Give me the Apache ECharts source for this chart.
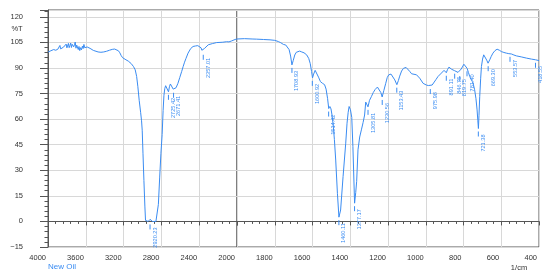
<!DOCTYPE html>
<html><head><meta charset="utf-8">
<script src="https://cdn.jsdelivr.net/npm/echarts@6/dist/echarts.min.js"></script>
<style>html,body{margin:0;padding:0;background:#fff}#c{width:550px;height:279px}</style>
</head><body><div id="c"></div>
<script>
// Spectrum: wavenumber (1/cm) and transmittance (%T)
const wavenumbers = [4000,3985,3970,3955,3940,3928,3918,3908,3896,3884,3874,3866,3856,3846,3836,3826,3816,3808,3800,3792,3784,3776,3768,3760,3752,3744,3736,3728,3720,3712,3704,3696,3688,3680,3672,3664,3656,3646,3636,3628,3620,3612,3600,3585,3570,3555,3540,3520,3500,3470,3440,3410,3380,3350,3320,3295,3275,3255,3240,3225,3210,3195,3175,3150,3120,3095,3077,3062,3049,3035,3020,3010,3003,2995,2985,2975,2968,2955,2940,2928,2920,2912,2895,2875,2858,2842,2832,2818,2805,2792,2782,2773,2764,2755,2746,2737,2725,2715,2705,2695,2685,2675,2670,2660,2645,2625,2605,2585,2570,2555,2540,2518,2490,2465,2440,2415,2394,2380,2372,2362,2355,2345,2330,2304,2260,2216,2180,2150,2110,2085,2060,2040,2020,2000,
1960,1920,1896,1860,1825,1800,1781,1768,1754,1742,1732,1724,1716,1709,1702,1694,1686,1678,1668,1657,1645,1631,1620,1612,1605,1600,1594,1586,1578,1568,1558,1547,1536,1528,1520,1514,1508,1502,1496,1490,1484,1477,1468,1460,1451,1438,1424,1417,1411,1406,1399,1392,1386,1377,1371,1366,1359,1350,1341,1332,1324,1318,1312,1306,1298,1288,1278,1268,1256,1246,1238,1231,1222,1212,1204,1196,1184,1174,1164,1153,1145,1138,1128,1118,1104,1094,1085,1075,1067,1049,1032,1014,997,986,976,966,958,946,935,917,903,891,885,877,870,864,847,838,829,820,812,806,798,794,788,781,774,767,760,753,747,741,734,728,724,721,718,714,709,705,699,693,688,684,677,670,665,661,653,644,633,622,610,599,586,573,560,553,546,533,520,494,467,440,418,400];
const transmittance = [99.3,99.7,100.1,100.5,100.8,101.2,100.4,101.4,101.0,101.8,103.2,101.2,102.0,101.6,102.2,101.4,102.6,104.0,101.8,102.8,104.4,101.9,103.2,104.6,102.0,103.9,105.0,102.4,103.6,105.2,101.6,103.4,104.2,100.8,102.6,100.2,101.9,100.6,102.8,101.4,103.8,101.9,102.9,102.3,101.9,101.5,100.9,100.3,99.8,99.4,99.2,99.4,99.8,100.4,100.9,101.1,100.9,100.1,98.9,97.2,96.0,95.4,94.8,94.0,92.6,90.8,88.9,85.0,79.0,71.0,64.0,59.0,53.5,40.0,24.0,9.0,0.6,0.1,0.0,0.2,1.2,0.1,0.0,0.1,0.0,0.3,10.0,26.0,40.0,51.0,65.0,74.0,78.0,79.6,80.4,79.2,76.0,79.0,80.6,81.2,80.4,77.6,77.2,77.8,78.4,81.0,84.5,88.0,90.8,93.4,95.6,98.7,101.4,102.6,102.9,103.1,103.0,101.8,100.4,99.5,100.8,101.4,102.4,103.6,104.3,104.9,105.0,105.1,105.4,105.3,105.8,106.3,106.7,107.0,
107.2,107.0,106.9,106.7,106.5,106.2,105.5,104.8,103.8,103.5,102.6,100.8,97.0,91.8,94.4,97.6,99.2,99.8,99.9,99.4,98.9,97.7,95.6,92.6,88.0,84.2,86.4,88.6,87.8,84.6,82.0,81.0,80.2,77.6,72.0,66.2,67.4,66.0,62.0,56.0,48.0,36.0,16.5,2.5,6.7,26.3,45.9,57.6,64.0,67.4,65.5,61.0,44.0,10.7,17.0,23.5,42.0,49.5,53.7,58.0,62.4,70.0,69.4,67.2,71.0,73.2,75.6,77.4,78.8,77.8,75.6,73.0,76.8,81.0,84.4,86.0,86.4,85.4,83.0,80.2,82.6,85.2,88.2,89.8,90.3,89.6,88.0,86.6,86.0,86.0,84.0,81.0,80.0,79.7,79.4,80.0,81.0,83.2,85.0,87.0,88.6,87.2,89.0,90.5,90.0,89.3,88.4,87.6,87.4,87.0,89.4,90.6,92.2,92.8,91.8,89.8,87.4,85.0,83.4,82.0,80.0,77.2,72.0,65.4,59.0,54.5,62.0,73.2,84.0,90.8,95.2,97.7,97.6,96.7,94.6,92.8,93.6,94.8,96.8,98.7,100.2,101.0,100.4,99.6,99.1,98.7,98.4,98.3,98.2,97.6,97.1,96.5,95.8,95.2,94.8,94.3];

// Peak picks
const peakWavenumbers = [2920.23,2725.42,2671.41,2357.01,1708.93,1600.92,1514.42,1460.11,1377.17,1305.81,1230.56,1153.43,975.98,891.11,846.75,819.75,781.40,721.38,669.30,553.57,418.55];
const peakTransmittance = [0,76.0,77.2,99.5,91.8,84.2,66.2,2.5,10.7,67.2,73.0,80.2,79.4,87.2,88.4,87.0,89.8,54.5,92.8,98.3,94.8];

// Axis ticks
const xTicksLeft = [4000,3600,3200,2800,2400,2000];
const xTicksRight = [1800,1600,1400,1200,1000,800,600,400];
const yTicks = [-15,0,15,30,45,60,75,90,105,120];

const BLUE = '#3a8cf2';
const FONT = 'Arial';

const leftData = [], rightData = [];
wavenumbers.forEach((w, i) => {
  if (w >= 2000) leftData.push([w, transmittance[i]]);
  if (w <= 2000) rightData.push([w, transmittance[i]]);
});
const leftPeaks = [], rightPeaks = [];
peakWavenumbers.forEach((w, i) => {
  const item = {value: [w, peakTransmittance[i]], name: w.toFixed(2)};
  (w > 2000 ? leftPeaks : rightPeaks).push(item);
});

function peakRenderer(items) {
  return function (params, api) {
    const p = api.coord([api.value(0), api.value(1)]);
    const label = items[params.dataIndex].name;
    return {
      type: 'group',
      children: [
        {type: 'line', shape: {x1: p[0], y1: p[1] + 3, x2: p[0], y2: p[1] + 8},
         style: {stroke: BLUE, lineWidth: 1}},
        {type: 'text', x: p[0] + 5, y: p[1] + 6, rotation: Math.PI / 2,
         style: {text: label, fill: BLUE, fontSize: 5.6, fontFamily: FONT,
                 align: 'right', verticalAlign: 'middle'}}
      ]
    };
  };
}

const gridCommon = {top: 10, height: 237, show: true, borderColor: '#555', borderWidth: 1, containLabel: false};
const splitLine = {show: true, lineStyle: {color: '#d8d8d8', width: 1}};
const axisLineStyle = {show: true, lineStyle: {color: '#555', width: 1}};

function xAxisDef(grid, min, max, interval, ticks) {
  return {
    type: 'value', gridIndex: grid, min: min, max: max, interval: interval, inverse: true,
    axisLine: axisLineStyle,
    axisTick: {show: true, length: 4, inside: false, lineStyle: {color: '#555'}},
    minorTick: {show: true, splitNumber: 5, length: 2.5, lineStyle: {color: '#555'}},
    axisLabel: {show: true, fontSize: 7.5, fontFamily: FONT, color: '#333', align: 'right',
                padding: [0, 2, 0, 0], margin: 7, customValues: ticks,
                formatter: v => String(v)},
    splitLine: splitLine
  };
}

const option = {
  animation: false,
  backgroundColor: '#fff',
  grid: [
    Object.assign({left: 48, width: 189}, gridCommon),
    Object.assign({left: 237, width: 302}, gridCommon)
  ],
  xAxis: [
    xAxisDef(0, 2000, 4000, 400, xTicksLeft),
    xAxisDef(1, 400, 2000, 200, xTicksRight)
  ],
  yAxis: [
    {
      type: 'value', gridIndex: 0, min: -15, max: 124, interval: 15,
      axisLine: axisLineStyle,
      axisTick: {show: true, length: 8, lineStyle: {color: '#555'}},
      minorTick: {show: true, splitNumber: 5, length: 3.5, lineStyle: {color: '#555'}},
      axisLabel: {show: true, fontSize: 7.5, fontFamily: FONT, color: '#333', margin: 25,
                  customValues: yTicks,
                  formatter: v => String(v).replace('-', '\u2212')},
      splitLine: splitLine
    },
    {
      type: 'value', gridIndex: 1, min: -15, max: 124, interval: 15,
      axisLine: {show: false}, axisTick: {show: false}, axisLabel: {show: false},
      splitLine: splitLine
    }
  ],
  series: [
    {type: 'line', xAxisIndex: 0, yAxisIndex: 0, data: leftData, showSymbol: false,
     lineStyle: {color: BLUE, width: 1}, clip: true},
    {type: 'line', xAxisIndex: 1, yAxisIndex: 1, data: rightData, showSymbol: false,
     lineStyle: {color: BLUE, width: 1}, clip: true},
    {type: 'custom', xAxisIndex: 0, yAxisIndex: 0, data: leftPeaks, clip: false,
     renderItem: peakRenderer(leftPeaks), z: 3},
    {type: 'custom', xAxisIndex: 1, yAxisIndex: 1, data: rightPeaks, clip: false,
     renderItem: peakRenderer(rightPeaks), z: 3}
  ],
  graphic: [
    {type: 'text', x: 17, y: 29, style: {text: '%T', fontSize: 7.5, fontFamily: FONT, fill: '#333', align: 'center', verticalAlign: 'middle'}},
    {type: 'text', x: 48, y: 267, style: {text: 'New Oil', fontSize: 8, fontFamily: FONT, fill: BLUE, align: 'left', verticalAlign: 'middle'}},
    {type: 'text', x: 519, y: 268, style: {text: '1/cm', fontSize: 7.5, fontFamily: FONT, fill: '#333', align: 'center', verticalAlign: 'middle'}}
  ]
};

const chart = echarts.init(document.getElementById('c'), null, {renderer: 'canvas'});
chart.setOption(option);
</script>
</body></html>
